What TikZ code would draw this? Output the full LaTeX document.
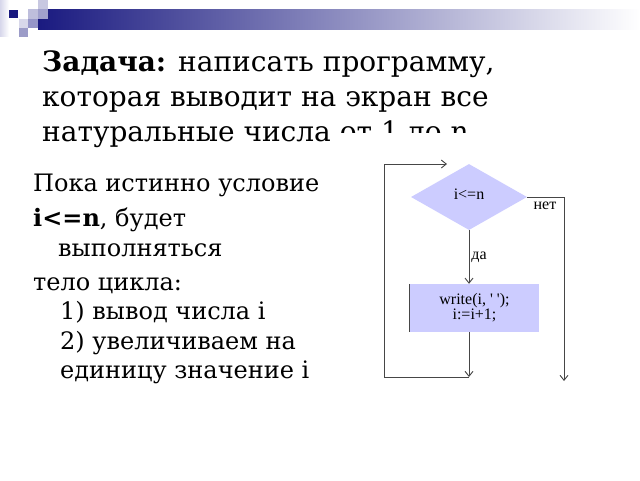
\documentclass[tikz,border=0pt]{standalone}
\usepackage{fontspec}
\setmainfont{DejaVu Serif}
\newfontfamily\chartfont{Liberation Serif}
\usepackage{xcolor}
\usetikzlibrary{shapes.geometric, arrows.meta, positioning}

\definecolor{navy}{RGB}{26,26,128}
\definecolor{chartfill}{RGB}{204,204,255}
\definecolor{chartline}{RGB}{70,70,70}
\definecolor{fade}{RGB}{215,215,235}
\definecolor{tileA}{RGB}{200,200,225}
\definecolor{tileB}{RGB}{190,190,220}
\definecolor{tileC}{RGB}{160,160,204}
\definecolor{tileD}{RGB}{150,150,200}
\definecolor{tileE}{RGB}{216,216,234}
\definecolor{tileF}{RGB}{156,156,200}

\tikzset{
  flow/.style={draw=chartline, line width=0.9pt, -{Straight Barb[length=5pt, width=8pt]}},
  decision/.style={diamond, fill=chartfill, minimum width=116pt, minimum height=66pt,
                   inner sep=0pt, font=\chartfont\fontsize{16}{17}\selectfont},
  action/.style={rectangle, fill=chartfill, minimum width=129pt, minimum height=48pt,
                 inner sep=0pt, align=center, font=\chartfont\fontsize{16}{15}\selectfont},
  flowlabel/.style={font=\chartfont\fontsize{16}{17}\selectfont, inner sep=0pt},
  title/.style={anchor=north west, inner sep=0pt, align=left,
                font=\fontsize{28}{35}\selectfont},
  body/.style={anchor=north west, inner sep=0pt, align=left,
               font=\fontsize{24}{29.5}\selectfont}
}

\begin{document}
\begin{tikzpicture}[x=1pt, y=-1pt]
        \useasboundingbox (0,0) rectangle (640,480);

        % header bar and tiles
        \shade[left color=navy, right color=white] (38,9) rectangle (640,29);
        \shade[left color=fade, right color=white] (0,0) rectangle (9,36);
        \fill[navy] (9,10) rectangle (18,18);
        \fill[tileA] (38,0) rectangle (48,9);
        \fill[tileB] (28,9) rectangle (38,19);
        \fill[tileC] (38,9) rectangle (48,19);
        \fill[tileD] (28,19) rectangle (38,28);
        \fill[tileE] (19,19) rectangle (28,28);
        \fill[tileF] (19,28) rectangle (28,37);

        % title
        \node[title] (task) at (42,51) {\textbf{Задача:} написать программу,\\
                                        которая выводит на экран все\\
                                        натуральные числа от 1 до n};

        % left text
        \node[body] (cond) at (33,174) {Пока истинно условие};
        \node[body] (cond2) at (33,208) {\textbf{i<=n}, будет\\
                                         \hspace*{25pt}выполняться};
        \node[body] (loop) at (33,277) {тело цикла:\\
                                        \hspace*{27pt}1) вывод числа i\\
                                        \hspace*{27pt}2) увеличиваем на\\
                                        \hspace*{27pt}единицу значение i};

        % flowchart picture
        \fill[white] (336,133) rectangle (600,400);
        \node[decision] (check) at (469,197) {\raisebox{5pt}{i<=n}};
        \node[action] (step) at (474.5,308) {write(i, ' ');\\ i:=i+1;};
        \draw[chartline, line width=0.9pt] (step.north west) -- (step.south west);

        \coordinate (join) at (469,377);
        \coordinate (rett) at (384,164);
        \coordinate (entry) at (447,164);
        \coordinate (exit) at (564,381);

        \draw[flow] (check.south) -- node[flowlabel, pos=0.5, right=2pt] {да} (step.north -| check.south);
        \draw[flow] (step.south -| check.south) -- (join);
        \draw[flow] (join) -| (rett) -- (entry);
        \draw[flow] (check.east) -| (exit);
        \node[flowlabel] (no) at (545,206) {нет};
\end{tikzpicture}
\end{document}
